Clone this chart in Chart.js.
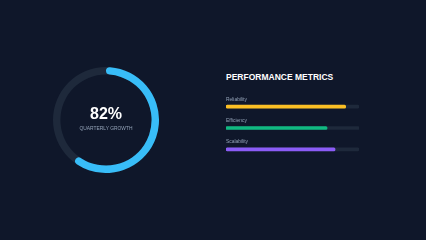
<!DOCTYPE html>
<html>
<head>
<meta charset="utf-8">
<script src="https://cdn.jsdelivr.net/npm/chart.js@4"></script>
<style>
  html, body { margin:0; padding:0; background:#0f172a; }
  body { width:426px; height:240px; position:relative; overflow:hidden; font-family:"Liberation Sans", Arial, sans-serif; }
  .abs { position:absolute; }
  #title { left:226px; top:71px; color:#ffffff; font-weight:bold; font-size:8.5px; line-height:12px; white-space:nowrap; }
  #pct { left:56px; width:100px; top:104px; text-align:center; color:#ffffff; font-weight:bold; font-size:16px; line-height:20px; }
  #sub { left:56px; width:100px; top:125px; text-align:center; color:#94a3b8; font-size:4.9px; line-height:7px; white-space:nowrap; }
</style>
</head>
<body>
<div class="abs" style="left:53px;top:67px;width:106px;height:106px;"><canvas id="track"></canvas></div>
<div class="abs" style="left:53px;top:67px;width:106px;height:106px;"><canvas id="ring"></canvas></div>
<div class="abs" id="pct"></div>
<div class="abs" id="sub"></div>
<div class="abs" id="title"></div>
<div class="abs" style="left:226px;top:96px;width:133px;height:64px;"><canvas id="bars"></canvas></div>
<script>
const growthLabel = "QUARTERLY GROWTH";
const growthValue = 82;          // value printed in the centre
const ringFilled = [60.5, 39.5]; // arc share as drawn in the picture (filled, remaining)
const titleText = "PERFORMANCE METRICS";
const metricNames = ["Reliability", "Efficiency", "Scalability"];
const metricValues = [90, 76, 82];
const metricMax = [100, 100, 100];
const metricColors = ["#fbbf24", "#10b981", "#8b5cf6"];

document.getElementById('pct').textContent = growthValue + '%';
document.getElementById('sub').textContent = growthLabel;
document.getElementById('title').textContent = titleText;

const baseOpts = {
  responsive: true, maintainAspectRatio: false, animation: false,
  plugins: { legend: { display: false }, tooltip: { enabled: false } },
  layout: { padding: 0 }
};

new Chart(document.getElementById('track'), {
  type: 'doughnut',
  data: { datasets: [{ data: [100], backgroundColor: ['#1e293b'], borderWidth: 0 }] },
  options: Object.assign({}, baseOpts, { cutout: '86%' })
});

new Chart(document.getElementById('ring'), {
  type: 'doughnut',
  data: { datasets: [{ data: ringFilled, backgroundColor: ['#38bdf8', 'rgba(0,0,0,0)'], borderWidth: 0, borderRadius: 4 }] },
  options: Object.assign({}, baseOpts, { cutout: '86%' })
});

const labelPlugin = {
  id: 'barLabels',
  afterDatasetsDraw(chart) {
    const ctx = chart.ctx;
    const y = chart.scales.y;
    ctx.save();
    ctx.fillStyle = '#94a3b8';
    ctx.font = '4.9px "Liberation Sans", Arial, sans-serif';
    ctx.textBaseline = 'middle';
    ctx.textAlign = 'left';
    metricNames.forEach((n, i) => {
      ctx.fillText(n, chart.chartArea.left, y.getPixelForValue(i) - 7.3);
    });
    ctx.restore();
  }
};

new Chart(document.getElementById('bars'), {
  type: 'bar',
  data: {
    labels: metricNames,
    datasets: [
      { data: metricValues, backgroundColor: metricColors, barThickness: 3, borderRadius: 2, borderSkipped: false, grouped: false, order: 0 },
      { data: metricMax, backgroundColor: '#1e293b', barThickness: 3, borderRadius: 2, borderSkipped: false, grouped: false, order: 1 }
    ]
  },
  options: Object.assign({}, baseOpts, {
    indexAxis: 'y',
    scales: {
      x: { display: false, min: 0, max: 100 },
      y: { display: false }
    }
  }),
  plugins: [labelPlugin]
});
</script>
</body>
</html>
